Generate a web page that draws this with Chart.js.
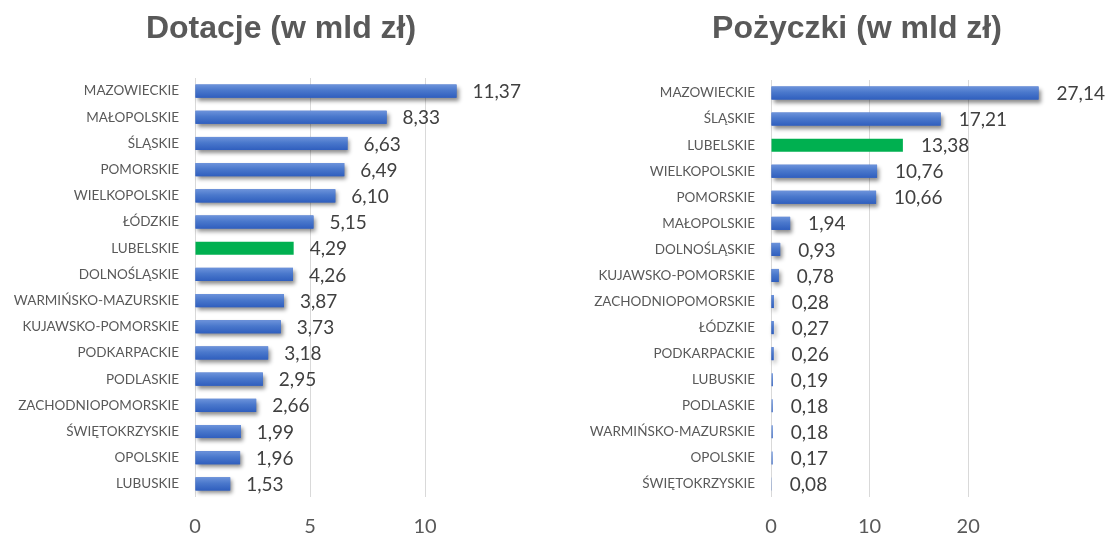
<!DOCTYPE html>
<html>
<head>
<meta charset="utf-8">
<script src="https://cdn.jsdelivr.net/npm/chart.js@4"></script>
<style>
  html, body { margin: 0; padding: 0; background: #ffffff; }
  body { width: 1107px; height: 539px; position: relative; overflow: hidden; }
  .panel { position: absolute; top: 0; }
  #left { left: 0; width: 560px; height: 539px; }
  #right { left: 560px; width: 547px; height: 539px; }
</style>
</head>
<body>
<div class="panel" id="left"><canvas id="dotacje" width="560" height="539"></canvas></div>
<div class="panel" id="right"><canvas id="pozyczki" width="547" height="539"></canvas></div>
<script>
// Grants by voivodeship (billion PLN)
const dotacjeLabels = ['MAZOWIECKIE', 'MAŁOPOLSKIE', 'ŚLĄSKIE', 'POMORSKIE', 'WIELKOPOLSKIE', 'ŁÓDZKIE',
  'LUBELSKIE', 'DOLNOŚLĄSKIE', 'WARMIŃSKO-MAZURSKIE', 'KUJAWSKO-POMORSKIE', 'PODKARPACKIE', 'PODLASKIE',
  'ZACHODNIOPOMORSKIE', 'ŚWIĘTOKRZYSKIE', 'OPOLSKIE', 'LUBUSKIE'];
const dotacjeValues = [11.37, 8.33, 6.63, 6.49, 6.10, 5.15, 4.29, 4.26, 3.87, 3.73, 3.18, 2.95, 2.66, 1.99, 1.96, 1.53];
const dotacjeTicks = [0, 5, 10];

// Loans by voivodeship (billion PLN)
const pozyczkiLabels = ['MAZOWIECKIE', 'ŚLĄSKIE', 'LUBELSKIE', 'WIELKOPOLSKIE', 'POMORSKIE', 'MAŁOPOLSKIE',
  'DOLNOŚLĄSKIE', 'KUJAWSKO-POMORSKIE', 'ZACHODNIOPOMORSKIE', 'ŁÓDZKIE', 'PODKARPACKIE', 'LUBUSKIE',
  'PODLASKIE', 'WARMIŃSKO-MAZURSKIE', 'OPOLSKIE', 'ŚWIĘTOKRZYSKIE'];
const pozyczkiValues = [27.14, 17.21, 13.38, 10.76, 10.66, 1.94, 0.93, 0.78, 0.28, 0.27, 0.26, 0.19, 0.18, 0.18, 0.17, 0.08];
const pozyczkiTicks = [0, 10, 20];

const highlightRegion = 'LUBELSKIE';
const GREEN = '#00B050';
const GREY_TEXT = '#595959';
const LABEL_TEXT = '#404040';
const GRID = '#d9d9d9';
const LABEL_FONT = 'Lato, "Open Sans", sans-serif';

const fmt = v => v.toFixed(2).replace('.', ',');

// Vertical gradient for each blue bar, built from the bar's own band on the category scale
function barFill(context) {
  const chart = context.chart;
  const label = chart.data.labels[context.dataIndex];
  if (label === highlightRegion) return GREEN;
  const y = chart.scales.y;
  if (!y || y.top === undefined) return '#4472C4';
  const c = y.getPixelForValue(context.dataIndex);
  const h = 7;
  const g = chart.ctx.createLinearGradient(0, c - h, 0, c + h);
  g.addColorStop(0, '#6f95dc');
  g.addColorStop(0.45, '#4a78cc');
  g.addColorStop(1, '#2e5dbd');
  return g;
}

// Soft drop shadow under the blue bars
const barShadow = {
  id: 'barShadow',
  beforeDatasetsDraw(chart) {
    const ctx = chart.ctx;
    const meta = chart.getDatasetMeta(0);
    meta.data.forEach((bar, i) => {
      if (chart.data.labels[i] === highlightRegion) return;
      const p = bar.getProps(['x', 'y', 'base', 'height'], true);
      const w = p.x - p.base;
      if (w < 2) return;
      ctx.save();
      ctx.shadowColor = 'rgba(0,0,0,0.45)';
      ctx.shadowBlur = 4;
      ctx.shadowOffsetX = 2;
      ctx.shadowOffsetY = 3;
      ctx.fillStyle = '#3a66c4';
      ctx.fillRect(p.base, p.y - p.height / 2, w, p.height);
      ctx.restore();
    });
  }
};

// Value labels to the right of each bar
const valueLabels = {
  id: 'valueLabels',
  afterDatasetsDraw(chart, args, opts) {
    const ctx = chart.ctx;
    const meta = chart.getDatasetMeta(0);
    const values = chart.data.datasets[0].data;
    ctx.save();
    ctx.font = '19px ' + LABEL_FONT;
    ctx.fillStyle = LABEL_TEXT;
    ctx.textAlign = 'left';
    ctx.textBaseline = 'middle';
    meta.data.forEach((bar, i) => {
      const p = bar.getProps(['x', 'y'], true);
      ctx.fillText(fmt(values[i]), p.x + opts.offset, p.y + 1);
    });
    ctx.restore();
  }
};

// Chart heading placed at a fixed horizontal centre
const heading = {
  id: 'heading',
  afterDraw(chart, args, opts) {
    const ctx = chart.ctx;
    ctx.save();
    ctx.font = 'bold 32px "Liberation Sans", Arial, sans-serif';
    ctx.fillStyle = GREY_TEXT;
    ctx.textAlign = 'center';
    ctx.textBaseline = 'alphabetic';
    ctx.fillText(opts.text, opts.x, opts.y);
    ctx.restore();
  }
};

function makeChart(id, labels, values, ticks, cfg) {
  return new Chart(document.getElementById(id), {
    type: 'bar',
    data: {
      labels: labels,
      datasets: [{
        data: values,
        backgroundColor: barFill,
        borderWidth: 0,
        categoryPercentage: 1,
        barPercentage: 0.5
      }]
    },
    options: {
      indexAxis: 'y',
      responsive: false,
      animation: false,
      layout: { padding: { top: cfg.top, right: cfg.right, left: 0, bottom: 0 } },
      plugins: {
        legend: { display: false },
        tooltip: { enabled: false },
        title: { display: false },
        heading: { text: cfg.title, x: cfg.titleX, y: 38 },
        valueLabels: { offset: cfg.labelOffset }
      },
      scales: {
        x: {
          min: 0,
          max: cfg.max,
          afterBuildTicks: s => { s.ticks = ticks.map(v => ({ value: v })); },
          afterFit: s => { s.height = 539 - cfg.bottom; },
          grid: { color: GRID, lineWidth: 1, drawTicks: false },
          border: { display: false },
          ticks: {
            padding: 18,
            color: GREY_TEXT,
            font: { family: LABEL_FONT, size: 20 }
          }
        },
        y: {
          afterFit: s => { s.width = cfg.axisX; },
          grid: { display: false, drawTicks: false },
          border: { display: false },
          ticks: {
            padding: 16,
            color: GREY_TEXT,
            autoSkip: false,
            font: { family: LABEL_FONT, size: 13.5 }
          }
        }
      }
    },
    plugins: [barShadow, valueLabels, heading]
  });
}

makeChart('dotacje', dotacjeLabels, dotacjeValues, dotacjeTicks, {
  title: 'Dotacje (w mld zł)', titleX: 281,
  top: 78, bottom: 497, right: 89, axisX: 195, max: 12, labelOffset: 16
});

makeChart('pozyczki', pozyczkiLabels, pozyczkiValues, pozyczkiTicks, {
  title: 'Pożyczki (w mld zł)', titleX: 297,
  top: 80, bottom: 497, right: 60, axisX: 211, max: 28, labelOffset: 18
});
</script>
</body>
</html>
